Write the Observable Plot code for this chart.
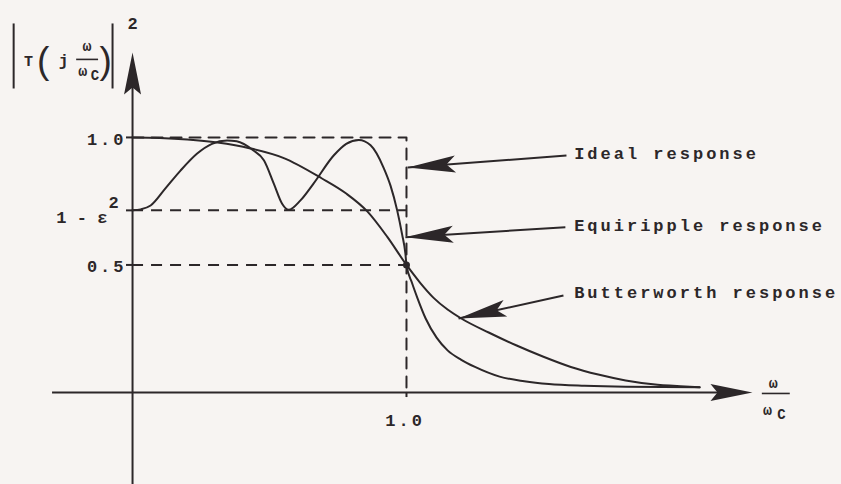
<!DOCTYPE html>
<html>
<head>
<meta charset="utf-8">
<script src="https://cdn.jsdelivr.net/npm/d3@7"></script>
<script src="https://cdn.jsdelivr.net/npm/@observablehq/plot@0.6"></script>
<style>
  html, body { margin: 0; padding: 0; background: #f7f4f2; }
  /* typewriter labels are spaced out; symbol pieces use the plain family and stay tight */
  #chart g[font-family="Liberation Mono, DejaVu Sans Mono, monospace"] text { letter-spacing: 3px; }
</style>
</head>
<body>
<div id="chart"></div>
<script>
// Normalised frequency ω/ωc against squared magnitude |T(jω/ωc)|²
const butterworthX = [0, 0.1, 0.2, 0.31, 0.43, 0.55, 0.69, 0.78, 0.857, 0.93, 1.0, 1.05, 1.1, 1.15, 1.2, 1.3, 1.4, 1.5, 1.6, 1.7, 1.8, 1.9, 2.0, 2.07];
const butterworthY = [1.0, 0.998, 0.992, 0.98, 0.957, 0.92, 0.84, 0.78, 0.71, 0.61, 0.5, 0.43, 0.37, 0.325, 0.29, 0.235, 0.185, 0.14, 0.10, 0.07, 0.047, 0.032, 0.024, 0.02];

const equirippleX = [0, 0.03, 0.066, 0.12, 0.175, 0.236, 0.29, 0.345, 0.38, 0.44, 0.48, 0.516, 0.546, 0.57, 0.613, 0.66, 0.735, 0.78, 0.826, 0.869, 0.917, 0.942, 0.966, 0.984, 0.996, 1.0, 1.02, 1.04, 1.07, 1.11, 1.15, 1.2, 1.25, 1.34, 1.43, 1.52, 1.65, 1.8, 2.07];
const equirippleY = [0.714, 0.718, 0.733, 0.80, 0.87, 0.937, 0.975, 0.988, 0.985, 0.95, 0.91, 0.818, 0.74, 0.716, 0.753, 0.818, 0.93, 0.975, 0.99, 0.969, 0.88, 0.81, 0.714, 0.62, 0.545, 0.5, 0.43, 0.37, 0.29, 0.215, 0.165, 0.128, 0.10, 0.062, 0.044, 0.033, 0.026, 0.022, 0.02];

// Ideal brick-wall response: unity up to the cutoff, then zero
const idealX = [0, 1, 1];
const idealY = [1, 1, 0];

const rippleFloor = 0.714;   // 1 − ε²
const halfPower = 0.5;
const cutoff = 1.0;

const yTicks = [1.0, 0.5];
const yTickLabels = ["1.0", "0.5"];
const xTicks = [1.0];
const xTickLabels = ["1.0"];
const responseNames = ["Ideal response", "Equiripple response", "Butterworth response"];

const ink = "#2c2729";
const paper = "#f7f4f2";
const mono = "Liberation Mono, DejaVu Sans Mono, monospace";
const monoTight = "Liberation Mono, monospace";
const xDomain = [-0.482, 2.588];
const yDomain = [-0.361, 1.537];
const W = 841, H = 484;
const kx = W / (xDomain[1] - xDomain[0]);
const ky = H / (yDomain[1] - yDomain[0]);

const zip = (xs, ys) => xs.map((x, i) => ({x, y: ys[i]}));
const butterworth = zip(butterworthX, butterworthY);
const equiripple = zip(equirippleX, equirippleY);
const ideal = zip(idealX, idealY);

// clockwise screen angle (degrees) of the direction from (x1,y1) to (x2,y2)
const heading = (x1, y1, x2, y2) => Math.atan2((x2 - x1) * kx, (y2 - y1) * ky) * 180 / Math.PI;

// filled, notched arrowhead with its tip at the origin, pointing up
const barb = (len, half, notch) => ({
  draw(context) {
    context.moveTo(0, 0);
    context.lineTo(half, len);
    context.lineTo(0, len - notch);
    context.lineTo(-half, len);
    context.closePath();
  }
});

// callout arrows from each label to its curve
const callouts = [
  {tail: [1.584, 0.929], tip: [1.004, 0.882], at: [1.612, 0.937]},
  {tail: [1.580, 0.648], tip: [0.996, 0.609], at: [1.612, 0.655]},
  {tail: [1.573, 0.380], tip: [1.190, 0.290], at: [1.612, 0.393]}
].map((c, i) => ({...c, name: responseNames[i], rotate: heading(...c.tail, ...c.tip)}));

const axisHeads = [
  {x: 0, y: 1.333, rotate: heading(0, 0, 0, 1)},
  {x: 2.263, y: 0, rotate: heading(0, 0, 1, 0)}
];

const dash = "11,8";
const labelFont = {fontFamily: mono, fontSize: 17, fontWeight: "bold", fill: ink};
const tightFont = {fontFamily: monoTight, fontWeight: "bold", fill: ink};

const chart = Plot.plot({
  width: W,
  height: H,
  margin: 0,
  x: {domain: xDomain, axis: null},
  y: {domain: yDomain, axis: null},
  style: {background: paper, color: ink},
  marks: [
    // axes
    Plot.ruleX([0], {y1: yDomain[0], y2: 1.2, stroke: ink, strokeWidth: 2}),
    Plot.ruleY([0], {x1: -0.292, x2: 2.15, stroke: ink, strokeWidth: 2}),
    Plot.dot(axisHeads, {x: "x", y: "y", rotate: "rotate", symbol: barb(42, 8.5, 7), fill: ink, stroke: "none"}),

    // ticks and tick labels
    Plot.ruleY([...yTicks, rippleFloor], {x1: -0.022, x2: 0, stroke: ink, strokeWidth: 2}),
    Plot.ruleX(xTicks, {y1: -0.02, y2: 0, stroke: ink, strokeWidth: 2}),
    Plot.text(yTicks, {x: -0.022, y: d => d - 0.008, text: (d, i) => yTickLabels[i], textAnchor: "end", ...labelFont}),
    Plot.text(xTicks, {x: d => d - 0.005, y: -0.11, text: (d, i) => xTickLabels[i], ...labelFont}),
    Plot.text([rippleFloor], {x: -0.092, y: d => d - 0.027, text: () => "1 - ε", textAnchor: "end", fontSize: 17, ...tightFont}),
    Plot.text([rippleFloor], {x: -0.069, y: d => d + 0.032, text: () => "2", fontSize: 17, ...tightFont}),

    // guide levels and the ideal response
    Plot.ruleY([rippleFloor, halfPower], {x1: 0, x2: cutoff, stroke: ink, strokeWidth: 2, strokeDasharray: dash}),
    Plot.line(ideal, {x: "x", y: "y", stroke: ink, strokeWidth: 2, strokeDasharray: dash}),

    // the two realisable responses
    Plot.line(butterworth, {x: "x", y: "y", curve: "monotone-x", stroke: ink, strokeWidth: 2}),
    Plot.line(equiripple, {x: "x", y: "y", curve: "monotone-x", stroke: ink, strokeWidth: 2}),
    Plot.dot([{x: cutoff, y: halfPower}], {x: "x", y: "y", r: 3.5, fill: ink, stroke: "none"}),

    // callouts
    Plot.link(callouts, {x1: d => d.tail[0], y1: d => d.tail[1], x2: d => d.tip[0], y2: d => d.tip[1], stroke: ink, strokeWidth: 2}),
    Plot.dot(callouts, {x: d => d.tip[0], y: d => d.tip[1], rotate: "rotate", symbol: barb(48, 8.5, 9), fill: ink, stroke: "none"}),
    Plot.text(callouts, {x: d => d.at[0], y: d => d.at[1], text: "name", textAnchor: "start", ...labelFont}),

    // y-axis title |T(j ω/ωc)|²
    Plot.ruleX([-0.434, -0.073], {y1: 1.19, y2: 1.445, stroke: ink, strokeWidth: 2}),
    Plot.ruleY([1.306], {x1: -0.204, x2: -0.124, stroke: ink, strokeWidth: 1.6}),
    Plot.text([
      {x: -0.380, y: 1.300, t: "T", s: 15},
      {x: -0.252, y: 1.300, t: "j", s: 16},
      {x: -0.166, y: 1.356, t: "ω", s: 15},
      {x: -0.182, y: 1.258, t: "ω", s: 15},
      {x: -0.137, y: 1.243, t: "C", s: 14},
      {x: 0.000, y: 1.447, t: "2", s: 17}
    ], {x: "x", y: "y", text: "t", fontSize: "s", ...tightFont}),
    Plot.text([
      {x: -0.326, y: 1.298, t: "("},
      {x: -0.098, y: 1.298, t: ")"}
    ], {x: "x", y: "y", text: "t", fontSize: 37, fontFamily: "Liberation Sans", fontWeight: "normal", fill: ink}),

    // x-axis title ω/ωc
    Plot.ruleY([-0.004], {x1: 2.299, x2: 2.401, stroke: ink, strokeWidth: 1.6}),
    Plot.text([
      {x: 2.339, y: 0.035, t: "ω", s: 15},
      {x: 2.318, y: -0.071, t: "ω", s: 15},
      {x: 2.369, y: -0.086, t: "C", s: 14}
    ], {x: "x", y: "y", text: "t", fontSize: "s", ...tightFont})
  ]
});

document.getElementById("chart").append(chart);
</script>
</body>
</html>
